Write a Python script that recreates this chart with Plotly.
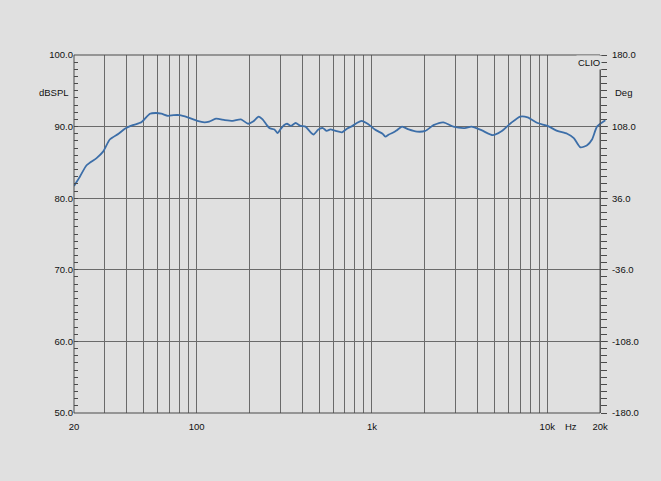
import math
import plotly.graph_objects as go

# Frequency response (Hz, dB SPL)
freq = [20, 21.6, 23.6, 26.9, 29.3, 32.0, 35.9, 39.0, 43.3, 48.4, 54.2, 58.8, 63, 68.6, 74, 80,
        89, 101, 111, 118, 129, 145, 161, 179, 197, 210, 226, 238, 250, 260, 278, 290, 300,
        315, 328, 345, 367, 392, 418, 440, 465, 495, 525, 552, 580, 620, 675, 720, 775, 821,
        874, 930, 981, 1040, 1093, 1150, 1193, 1250, 1330, 1388, 1485, 1621, 1807, 2015,
        2245, 2556, 2913, 3387, 3694, 4212, 4892, 5450, 6212, 7000, 7729, 8802, 10020,
        11400, 12990, 14170, 15450, 16870, 18000, 19220, 21440]
spl = [81.7, 83.0, 84.6, 85.6, 86.5, 88.2, 89.0, 89.7, 90.2, 90.6, 91.8, 91.9, 91.8, 91.5, 91.6, 91.6,
       91.3, 90.8, 90.6, 90.7, 91.1, 90.9, 90.8, 91.0, 90.4, 90.7, 91.4, 91.0, 90.3, 89.8, 89.6, 89.1, 89.6,
       90.2, 90.4, 90.1, 90.5, 90.1, 90.0, 89.4, 88.9, 89.6, 89.8, 89.4, 89.6, 89.4, 89.2, 89.7, 90.1, 90.5,
       90.8, 90.5, 90.1, 89.6, 89.3, 89.0, 88.6, 88.9, 89.2, 89.5, 90.0, 89.6, 89.3, 89.4,
       90.2, 90.6, 90.0, 89.8, 90.0, 89.5, 88.8, 89.3, 90.5, 91.4, 91.3, 90.5, 90.1,
       89.4, 89.0, 88.4, 87.1, 87.4, 88.2, 90.0, 90.9]

grid_freqs = [20, 30, 40, 50, 60, 70, 80, 90, 100, 200, 300, 400, 500, 600, 700, 800, 900,
              1000, 2000, 3000, 4000, 5000, 6000, 7000, 8000, 9000, 10000, 20000]
x_labels = {20: "20", 100: "100", 1000: "1k", 10000: "10k", 20000: "20k"}
left_ticks = [50, 60, 70, 80, 90, 100]
right_ticks = [-180, -108, -36, 36, 108, 180]

x_lo, x_hi = 20, 22200
FONT = "Liberation Sans, Arial, Helvetica, sans-serif"
BG = "#e0e0e0"
GRID = "#6a6a6a"
FRAME = "#4a4a4a"

pos20k = (math.log10(20000) - math.log10(x_lo)) / (math.log10(x_hi) - math.log10(x_lo))

fig = go.Figure()
fig.add_trace(go.Scatter(x=freq, y=spl, mode="lines",
                         line=dict(color="#3c6ea8", width=1.8, shape="spline", smoothing=0.6),
                         showlegend=False, hoverinfo="skip"))
# invisible trace to enable the secondary (phase) axis
fig.add_trace(go.Scatter(x=[freq[0]], y=[0], yaxis="y2", mode="markers",
                         marker=dict(opacity=0), showlegend=False, hoverinfo="skip"))

fig.update_layout(
    width=661, height=481,
    margin=dict(l=74, r=53, t=55, b=68),
    paper_bgcolor=BG, plot_bgcolor=BG,
    font=dict(family=FONT, size=9.5, color="#111111"),
    xaxis=dict(type="log", range=[math.log10(x_lo), math.log10(x_hi)],
               tickvals=grid_freqs,
               ticktext=[x_labels.get(f, "") for f in grid_freqs],
               showgrid=True, gridcolor=GRID, gridwidth=1,
               ticks="", showline=False, zeroline=False, fixedrange=True,
               ticklabelstandoff=6),
    yaxis=dict(range=[50, 100], tickvals=left_ticks,
               ticktext=[f"{v:.1f}" for v in left_ticks],
               showgrid=True, gridcolor=GRID, gridwidth=1,
               ticks="inside", ticklen=4, tickcolor=FRAME,
               minor=dict(dtick=1, ticks="inside", ticklen=4, tickcolor=FRAME, showgrid=False),
               showline=False, zeroline=False),
    yaxis2=dict(range=[-180, 180], overlaying="y", side="right", anchor="free",
                position=pos20k, tickvals=right_ticks,
                ticktext=[f"{v:.1f}" for v in right_ticks],
                showgrid=False, zeroline=False, showline=False,
                ticks="outside", ticklen=6, tickcolor=FRAME, ticklabelstandoff=3,
                minor=dict(dtick=7.2, ticks="outside", ticklen=6, tickcolor=FRAME)),
)

# frame (left, bottom, top, right at 20 kHz)
fig.add_shape(type="rect", xref="paper", yref="paper", x0=0, x1=pos20k, y0=0, y1=1,
              line=dict(color=FRAME, width=1), fillcolor="rgba(0,0,0,0)", layer="above")

fig.add_annotation(text="dBSPL", xref="paper", yref="y", x=0, y=94.8, xanchor="right",
                   xshift=-3, showarrow=False, font=dict(size=9.5))
fig.add_annotation(text="Deg", xref="paper", yref="y", x=1, y=94.8, xanchor="left",
                   xshift=5, showarrow=False, font=dict(size=9.5))
fig.add_annotation(text="CLIO", xref="paper", yref="y", x=pos20k, y=99.0, xanchor="right",
                   xshift=2, showarrow=False, font=dict(size=9.5), bgcolor=BG)
fig.add_annotation(text="Hz", xref="paper", yref="paper", x=(571 - 74) / 534, y=0,
                   xanchor="center", yanchor="top", yshift=-6, showarrow=False,
                   font=dict(size=9.5))

fig.write_html("out.html",
               config={"displayModeBar": False},
               post_script="document.body.style.margin='0';document.body.style.background='%s';" % BG)
